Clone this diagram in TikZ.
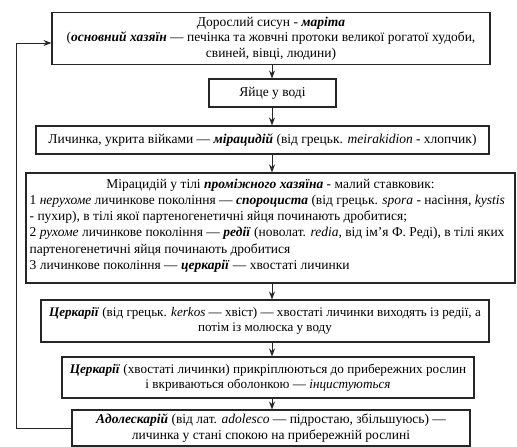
\documentclass[tikz,border=0pt]{standalone}
\usepackage{fontspec}
\setmainfont{Liberation Serif}
\newfontfamily\tnr{Liberation Serif}
\usetikzlibrary{arrows.meta,calc}
\newcommand{\bitx}[1]{\textbf{\textit{#1}}}
\begin{document}
\begin{tikzpicture}[x=1pt,y=-1pt,
  box/.style={draw=black!85, line width=1.1pt, align=center, inner sep=0pt,
    font=\tnr\fontsize{13.5}{15.5}\selectfont},
  txt/.style={inner sep=0pt, font=\tnr\fontsize{13.5}{16.3}\selectfont},
  arr/.style={-{Stealth[length=8pt,width=6pt]}, line width=1pt, draw=black!85}]
\useasboundingbox (0,0) rectangle (517,447);
\coordinate (ax) at (272,0);
\coordinate (fbx) at (16,0);
\coordinate (fby) at (0,43);

\node[box, minimum width=438pt, minimum height=52pt] (b1) at (271,38.5)
  {Дорослий сисун - \bitx{маріта}\\
   (\bitx{основний хазяїн} — печінка та жовчні протоки великої рогатої худоби,\\
   свиней, вівці, людини)};
\node[box, minimum width=127pt, minimum height=28pt] (b2) at (272.5,93)
  {Яйце у воді};
\node[box, minimum width=453pt, minimum height=28pt] (b3) at (262.5,140)
  {Личинка, укрита війками — \bitx{мірацидій} (від грецьк. \textit{meirakidion} - хлопчик)};
\node[box, minimum width=489pt, minimum height=110pt] (b4) at (270.5,228) {};
\node[txt, anchor=north] (b4h) at ($(b4.north)+(0,6)$)
  {Мірацидій у тілі \bitx{проміжного хазяїна} - малий ставковик:};
\node[txt, anchor=north west, align=left] (b4t) at ($(b4.north west)+(4,22.3)$)
  {1 \textit{нерухоме} личинкове покоління — \bitx{спороциста} (від грецьк. \textit{spora} - насіння, \textit{kystis}\\
   - пухир), в тілі якої партеногенетичні яйця починають дробитися;\\
   2 \textit{рухоме} личинкове покоління — \bitx{редії} (новолат. \textit{redia}, від ім’я Ф. Реді), в тілі яких\\
   партеногенетичні яйця починають дробитися\\
   3 личинкове покоління — \bitx{церкарії} — хвостаті личинки};
\node[box, minimum width=448pt, minimum height=42pt, font=\tnr\fontsize{13.1}{15.5}\selectfont] (b5) at (265,321)
  {\bitx{Церкарії} (від грецьк. \textit{kerkos} — хвіст) — хвостаті личинки виходять із редії, а\\
   потім із молюска у воду};
\node[box, minimum width=412pt, minimum height=41pt, font=\tnr\fontsize{13.2}{15.5}\selectfont] (b6) at (268,377.5)
  {\bitx{Церкарії} (хвостаті личинки) прикріплюються до прибережних рослин\\
   і вкриваються оболонкою — \textit{інцистуються}};
\node[box, minimum width=398pt, minimum height=36pt] (b7) at (271,428)
  {\bitx{Адолескарій} (від лат. \textit{adolesco} — підростаю, збільшуюсь) —\\
   личинка у стані спокою на прибережній рослині};

\draw[arr] (b1.south -| ax) -- (b2.north -| ax);
\draw[arr] (b2.south -| ax) -- (b3.north -| ax);
\draw[arr] (b3.south -| ax) -- (b4.north -| ax);
\draw[arr] (b4.south -| ax) -- (b5.north -| ax);
\draw[arr] (b5.south -| ax) -- (b6.north -| ax);
\draw[arr] (b6.south -| ax) -- (b7.north -| ax);
\draw[arr] (b7.west) -- (fbx |- b7.west) -- (fbx |- fby) -- (b1.west |- fby);
\end{tikzpicture}
\end{document}
